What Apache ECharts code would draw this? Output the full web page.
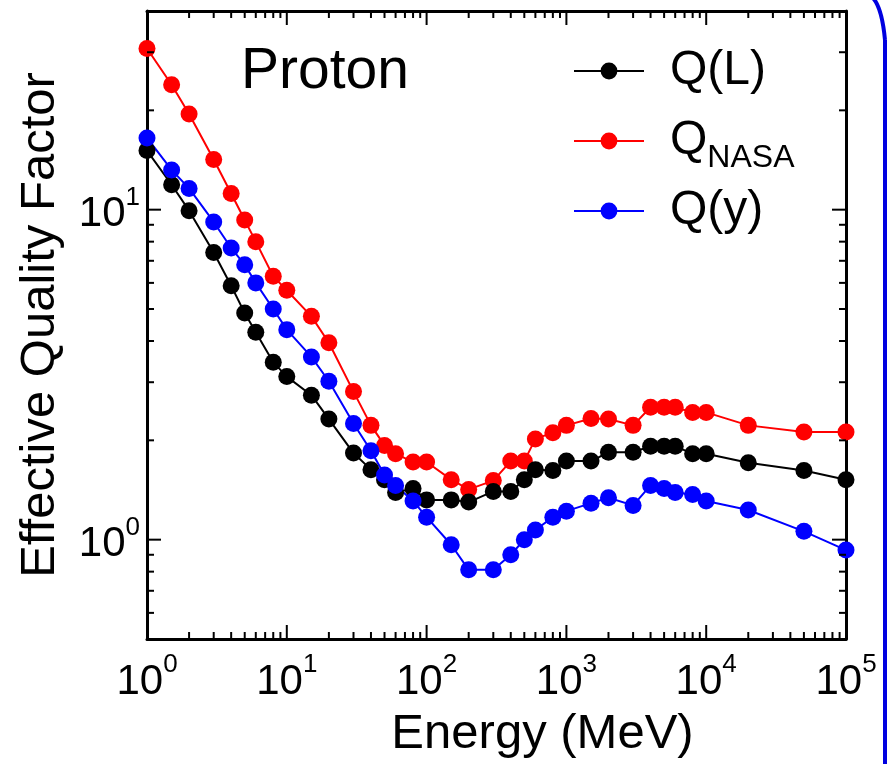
<!DOCTYPE html>
<html>
<head>
<meta charset="utf-8">
<script src="https://cdn.jsdelivr.net/npm/echarts@6/dist/echarts.min.js"></script>
<style>
html,body{margin:0;padding:0;background:#fff;}
#chart{width:888px;height:764px;}
</style>
</head>
<body>
<div id="chart"></div>
<script>
// ---- data ----
const energy = [1, 1.5, 2, 3, 4, 5, 6, 8, 10, 15, 20, 30, 40, 50, 60, 80, 100, 150, 200, 300, 400, 500, 600, 800, 1000, 1500, 2000, 3000, 4000, 5000, 6000, 8000, 10000, 20000, 50000, 100000];
const qNasa = [30.8, 23.9, 19.5, 14.2, 11.2, 9.3, 8.0, 6.28, 5.7, 4.75, 3.95, 2.81, 2.22, 1.93, 1.82, 1.72, 1.72, 1.52, 1.42, 1.51, 1.73, 1.73, 2.02, 2.11, 2.22, 2.33, 2.32, 2.22, 2.52, 2.52, 2.52, 2.43, 2.43, 2.22, 2.12, 2.12];
const qL = [15.1, 11.9, 9.93, 7.42, 5.88, 4.86, 4.25, 3.45, 3.12, 2.74, 2.32, 1.83, 1.63, 1.52, 1.39, 1.43, 1.32, 1.32, 1.30, 1.40, 1.40, 1.52, 1.63, 1.62, 1.73, 1.73, 1.84, 1.84, 1.92, 1.92, 1.92, 1.82, 1.82, 1.71, 1.62, 1.52];
const qY = [16.5, 13.2, 11.6, 9.18, 7.65, 6.81, 6.0, 5.0, 4.33, 3.58, 3.02, 2.25, 1.86, 1.57, 1.46, 1.31, 1.17, 0.965, 0.81, 0.81, 0.90, 1.00, 1.07, 1.17, 1.22, 1.29, 1.34, 1.27, 1.46, 1.43, 1.39, 1.37, 1.31, 1.23, 1.06, 0.93];

const xMajorTicks = [1, 10, 100, 1000, 10000, 100000];
const xTickExponents = ['0', '1', '2', '3', '4', '5'];
const yMajorTicks = [1, 10];
const yTickExponents = ['0', '1'];
const minorMultipliers = [2, 3, 4, 5, 6, 7, 8, 9];
const xDecades = [1, 10, 100, 1000, 10000];
const yMinorTicks = [0.6, 0.7, 0.8, 0.9, 2, 3, 4, 5, 6, 7, 8, 9, 20, 30];

const xMin = 1, xMax = 100000, yMin = 0.5, yMax = 40;
const FONT = 'Liberation Sans, Arial, Helvetica, sans-serif';

const MAJOR_LEN = 14, MINOR_LEN = 7;

const xTickData = [];
xMajorTicks.forEach(v => xTickData.push([v, 1, MAJOR_LEN]));
xDecades.forEach(d => minorMultipliers.forEach(m => xTickData.push([m * d, 1, MINOR_LEN])));
const yTickData = [];
yMajorTicks.forEach(v => yTickData.push([1, v, MAJOR_LEN]));
yMinorTicks.forEach(v => yTickData.push([1, v, MINOR_LEN]));

function expLabel(list, exps, v) {
  for (let i = 0; i < list.length; i++) {
    if (Math.abs(list[i] - v) / list[i] < 1e-6) return exps[i];
  }
  return null;
}

const chart = echarts.init(document.getElementById('chart'), null, {renderer: 'canvas'});

function pairs(ys) { return energy.map((e, i) => [e, ys[i]]); }

function lineSeries(name, color, ys) {
  return {
    name: name, type: 'line', data: pairs(ys),
    xAxisIndex: 0, yAxisIndex: 0,
    symbol: 'circle', symbolSize: 17,
    lineStyle: {color: color, width: 2},
    itemStyle: {color: color},
    emphasis: {disabled: true},
    clip: false
  };
}

function legendFor(name, top) {
  return {
    data: [name], left: 573, top: top, orient: 'vertical', padding: 0,
    itemWidth: 70, itemHeight: 21, selectedMode: false,
    textStyle: {
      fontFamily: FONT, fontSize: 48, color: '#000', lineHeight: 48, padding: [0, 0, 0, 21],
      rich: {
        q: {fontFamily: FONT, fontSize: 48, lineHeight: 48, color: '#000'},
        s: {fontFamily: FONT, fontSize: 32, lineHeight: 32, color: '#000', padding: [34, 0, 0, 0]}
      }
    },
    formatter: function (n) { return n === 'Q_NASA' ? '{q|Q}{s|NASA}' : n; }
  };
}

const option = {
  animation: false,
  backgroundColor: '#fff',
  grid: {left: 147, right: 42, top: 11, bottom: 124},
  legend: [legendFor('Q(L)', 47), legendFor('Q_NASA', 108), legendFor('Q(y)', 187)],
  xAxis: [{
    type: 'log', min: xMin, max: xMax, position: 'bottom',
    name: 'Energy (MeV)', nameLocation: 'middle', nameGap: 71,
    nameTextStyle: {fontFamily: FONT, fontSize: 49, color: '#000', padding: [0, 0, 0, 92]},
    axisLine: {show: true, onZero: false, lineStyle: {color: '#000', width: 3}},
    axisTick: {show: false}, splitLine: {show: false}, minorTick: {show: false},
    axisLabel: {
      show: true, margin: 13, color: '#000',
      formatter: function (v) {
        const e = expLabel(xMajorTicks, xTickExponents, v);
        return e === null ? '' : '{b|10}{s|' + e + '}';
      },
      rich: {
        b: {fontFamily: FONT, fontSize: 42, color: '#000'},
        s: {fontFamily: FONT, fontSize: 26, color: '#000', padding: [0, 0, 34, 0]}
      }
    }
  }, {
    type: 'log', min: xMin, max: xMax, position: 'top',
    axisLine: {show: true, onZero: false, lineStyle: {color: '#000', width: 3}},
    axisTick: {show: false}, axisLabel: {show: false}, splitLine: {show: false}
  }],
  yAxis: [{
    type: 'log', min: yMin, max: yMax, position: 'left',
    name: 'Effective Quality Factor', nameLocation: 'middle', nameGap: 82,
    nameTextStyle: {fontFamily: FONT, fontSize: 49, color: '#000'},
    axisLine: {show: true, onZero: false, lineStyle: {color: '#000', width: 3}},
    axisTick: {show: false}, splitLine: {show: false}, minorTick: {show: false},
    axisLabel: {
      show: true, margin: 7, color: '#000',
      formatter: function (v) {
        const e = expLabel(yMajorTicks, yTickExponents, v);
        return e === null ? '' : '{b|10}{s|' + e + '}';
      },
      rich: {
        b: {fontFamily: FONT, fontSize: 42, color: '#000', padding: [10, 0, 0, 0]},
        s: {fontFamily: FONT, fontSize: 26, color: '#000', padding: [0, 0, 24, 0]}
      }
    }
  }, {
    type: 'log', min: yMin, max: yMax, position: 'right',
    axisLine: {show: true, onZero: false, lineStyle: {color: '#000', width: 3}},
    axisTick: {show: false}, axisLabel: {show: false}, splitLine: {show: false}
  }],
  graphic: [{
    type: 'text', left: 241, top: 44,
    style: {text: 'Proton', fontFamily: FONT, fontSize: 57, fill: '#000'}
  }, {
    type: 'bezierCurve', silent: true,
    shape: {x1: 873, y1: -2, cpx1: 882, cpy1: 8, x2: 885, y2: 40},
    style: {stroke: '#0000e0', lineWidth: 4, fill: null}
  }, {
    type: 'line', silent: true,
    shape: {x1: 885, y1: 40, x2: 885, y2: 764},
    style: {stroke: '#0000e0', lineWidth: 4}
  }],
  series: [
    lineSeries('Q_NASA', '#ff0000', qNasa),
    lineSeries('Q(L)', '#000000', qL),
    lineSeries('Q(y)', '#0000ff', qY),
    {
      type: 'custom', name: 'xticks', silent: true, xAxisIndex: 0, yAxisIndex: 0,
      data: xTickData, clip: false, z: 5,
      renderItem: function (params, api) {
        const p = api.coord([api.value(0), api.value(1)]);
        const len = api.value(2);
        const cs = params.coordSys;
        const yb = cs.y + cs.height, yt = cs.y;
        return {type: 'group', children: [
          {type: 'line', shape: {x1: p[0], y1: yb, x2: p[0], y2: yb - len}, style: {stroke: '#000', lineWidth: 2}},
          {type: 'line', shape: {x1: p[0], y1: yt, x2: p[0], y2: yt + len}, style: {stroke: '#000', lineWidth: 2}}
        ]};
      }
    },
    {
      type: 'custom', name: 'yticks', silent: true, xAxisIndex: 0, yAxisIndex: 0,
      data: yTickData, clip: false, z: 5,
      renderItem: function (params, api) {
        const p = api.coord([api.value(0), api.value(1)]);
        const len = api.value(2);
        const cs = params.coordSys;
        const xl = cs.x, xr = cs.x + cs.width;
        return {type: 'group', children: [
          {type: 'line', shape: {x1: xl, y1: p[1], x2: xl + len, y2: p[1]}, style: {stroke: '#000', lineWidth: 2}},
          {type: 'line', shape: {x1: xr, y1: p[1], x2: xr - len, y2: p[1]}, style: {stroke: '#000', lineWidth: 2}}
        ]};
      }
    }
  ]
};
chart.setOption(option);
</script>
</body>
</html>
